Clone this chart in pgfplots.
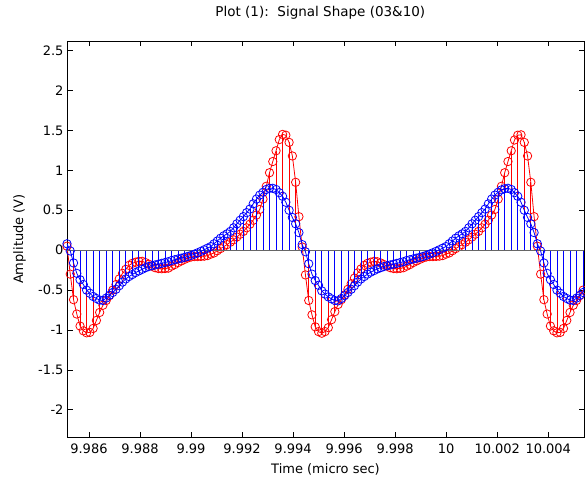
\documentclass[border=0pt]{standalone}
\usepackage{fontspec}
\setmainfont{DejaVu Sans}
\usepackage{pgfplots}
\pgfplotsset{compat=1.18}
\usepackage{pgfplotstable}
% t = (time - 10 micro sec) in units of 0.001 micro sec; r = red signal (V); b = blue signal (V)
\pgfplotstableread{
t r b
-14.860 0.05 0.08
-14.732 -0.30 -0.01
-14.604 -0.62 -0.16
-14.476 -0.80 -0.29
-14.348 -0.95 -0.37
-14.220 -1.01 -0.43
-14.092 -1.035 -0.50
-13.964 -1.03 -0.54
-13.836 -0.98 -0.58
-13.708 -0.88 -0.605
-13.580 -0.78 -0.625
-13.452 -0.69 -0.63
-13.324 -0.63 -0.60
-13.196 -0.57 -0.565
-13.068 -0.50 -0.53
-12.940 -0.43 -0.49
-12.812 -0.36 -0.445
-12.684 -0.29 -0.40
-12.556 -0.24 -0.36
-12.428 -0.19 -0.33
-12.300 -0.165 -0.305
-12.172 -0.15 -0.28
-12.044 -0.14 -0.26
-11.916 -0.14 -0.24
-11.788 -0.155 -0.22
-11.660 -0.175 -0.205
-11.532 -0.20 -0.195
-11.404 -0.22 -0.185
-11.276 -0.23 -0.175
-11.148 -0.232 -0.165
-11.020 -0.23 -0.155
-10.892 -0.225 -0.145
-10.764 -0.20 -0.13
-10.636 -0.18 -0.12
-10.508 -0.155 -0.11
-10.380 -0.135 -0.10
-10.252 -0.115 -0.09
-10.124 -0.097 -0.078
-9.996 -0.085 -0.065
-9.868 -0.08 -0.05
-9.740 -0.08 -0.033
-9.612 -0.078 -0.015
-9.484 -0.075 0.005
-9.356 -0.068 0.025
-9.228 -0.05 0.045
-9.100 -0.035 0.08
-8.972 -0.007 0.115
-8.844 0.02 0.15
-8.716 0.045 0.18
-8.588 0.07 0.205
-8.460 0.10 0.235
-8.332 0.13 0.28
-8.204 0.165 0.33
-8.076 0.20 0.375
-7.948 0.235 0.42
-7.820 0.28 0.47
-7.692 0.325 0.515
-7.564 0.375 0.58
-7.436 0.44 0.64
-7.308 0.51 0.69
-7.180 0.64 0.725
-7.052 0.80 0.76
-6.924 0.97 0.775
-6.796 1.11 0.775
-6.668 1.245 0.76
-6.540 1.385 0.72
-6.412 1.45 0.675
-6.284 1.44 0.60
-6.156 1.35 0.50
-6.028 1.18 0.41
-5.900 0.85 0.33
-5.772 0.42 0.22
-5.644 0.04 0.07
-5.516 -0.31 -0.02
-5.388 -0.63 -0.17
-5.260 -0.81 -0.30
-5.132 -0.96 -0.38
-5.004 -1.02 -0.44
-4.876 -1.04 -0.51
-4.748 -1.02 -0.55
-4.620 -0.97 -0.585
-4.492 -0.87 -0.61
-4.364 -0.77 -0.63
-4.236 -0.68 -0.635
-4.108 -0.62 -0.605
-3.980 -0.56 -0.57
-3.852 -0.49 -0.53
-3.724 -0.42 -0.49
-3.596 -0.35 -0.445
-3.468 -0.285 -0.40
-3.340 -0.235 -0.36
-3.212 -0.19 -0.33
-3.084 -0.165 -0.30
-2.956 -0.15 -0.275
-2.828 -0.14 -0.255
-2.700 -0.145 -0.235
-2.572 -0.16 -0.22
-2.444 -0.18 -0.205
-2.316 -0.20 -0.195
-2.188 -0.22 -0.185
-2.060 -0.23 -0.175
-1.932 -0.232 -0.165
-1.804 -0.228 -0.155
-1.676 -0.22 -0.145
-1.548 -0.20 -0.13
-1.420 -0.18 -0.12
-1.292 -0.155 -0.11
-1.164 -0.135 -0.10
-1.036 -0.115 -0.09
-0.908 -0.097 -0.078
-0.780 -0.085 -0.065
-0.652 -0.08 -0.05
-0.524 -0.08 -0.033
-0.396 -0.078 -0.015
-0.268 -0.075 0.005
-0.140 -0.068 0.025
-0.012 -0.05 0.045
0.116 -0.035 0.08
0.244 -0.007 0.115
0.372 0.02 0.15
0.500 0.045 0.18
0.628 0.07 0.205
0.756 0.10 0.235
0.884 0.13 0.28
1.012 0.165 0.33
1.140 0.20 0.375
1.268 0.235 0.42
1.396 0.28 0.47
1.524 0.325 0.515
1.652 0.375 0.58
1.780 0.44 0.64
1.908 0.51 0.69
2.036 0.64 0.725
2.164 0.80 0.755
2.292 0.97 0.77
2.420 1.11 0.775
2.548 1.245 0.76
2.676 1.38 0.72
2.804 1.44 0.675
2.932 1.445 0.60
3.060 1.35 0.50
3.188 1.18 0.41
3.316 0.85 0.33
3.444 0.42 0.22
3.572 0.05 0.08
3.700 -0.30 -0.01
3.828 -0.62 -0.16
3.956 -0.80 -0.29
4.084 -0.95 -0.37
4.212 -1.01 -0.43
4.340 -1.035 -0.50
4.468 -1.03 -0.54
4.596 -0.98 -0.58
4.724 -0.88 -0.605
4.852 -0.78 -0.625
4.980 -0.69 -0.63
5.108 -0.63 -0.60
5.236 -0.57 -0.565
5.364 -0.50 -0.53
}\sig

\definecolor{mred}{rgb}{1,0,0}
\definecolor{mblue}{rgb}{0,0,1}

\begin{document}
\begin{tikzpicture}
\begin{axis}[
  scale only axis,
  width=517pt, height=396pt,
  xmin=-14.86, xmax=5.4,
  ymin=-2.34, ymax=2.62,
  xtick={-14,-12,-10,-8,-6,-4,-2,0,2,4},
  xticklabels={9.986,9.988,9.99,9.992,9.994,9.996,9.998,10,10.002,10.004},
  ytick={-2,-1.5,-1,-0.5,0,0.5,1,1.5,2,2.5},
  yticklabels={-2,-1.5,-1,-0.5,0,0.5,1,1.5,2,2.5},
  tick align=inside,
  major tick length=5.5pt,
  tick style={black, line width=0.8pt},
  axis line style={black, line width=0.8pt},
  /pgf/number format/assume math mode=true,
  every tick label/.append style={font=\fontsize{13}{15}\selectfont},
  xticklabel style={yshift=-3pt},
  title={Plot (1):\ \ Signal Shape (03\&10)},
  title style={font=\fontsize{13.5}{15}\selectfont, at={(axis description cs:0.49,1.056)}, anchor=center},
  xlabel={Time (micro sec)},
  xlabel style={font=\fontsize{13}{15}\selectfont, at={(axis description cs:0.5,-0.083)}, anchor=center},
  ylabel={Amplitude (V)},
  ylabel style={font=\fontsize{13}{15}\selectfont, at={(axis description cs:-0.092,0.5)}, anchor=center},
  clip mode=individual,
]
% red stems (every other sample, same positions as the blue stems)
\addplot[mred, line width=0.8pt, ycomb, mark=none,
  x filter/.code={\ifodd\coordindex\def\pgfmathresult{}\fi}]
  table[x=t, y=r]{\sig};
% red line with circles
\addplot[mred, line width=0.8pt, mark=o, mark size=4.2pt,
  mark options={line width=0.8pt, solid}]
  table[x=t, y=r]{\sig};
% blue stems (every other sample)
\addplot[mblue, line width=0.8pt, ycomb, mark=none,
  x filter/.code={\ifodd\coordindex\def\pgfmathresult{}\fi}]
  table[x=t, y=b]{\sig};
% baseline
\addplot[black!60, line width=1.2pt, mark=none] coordinates {(-14.86,0) (5.4,0)};
% blue line with circles
\addplot[mblue, line width=0.8pt, mark=o, mark size=4.2pt,
  mark options={line width=0.8pt, solid}]
  table[x=t, y=b]{\sig};
\end{axis}
\pgfresetboundingbox
\path ([shift={(-67pt,-47pt)}]current axis.south west) rectangle ([shift={(1pt,41pt)}]current axis.north east);
\end{tikzpicture}
\end{document}
